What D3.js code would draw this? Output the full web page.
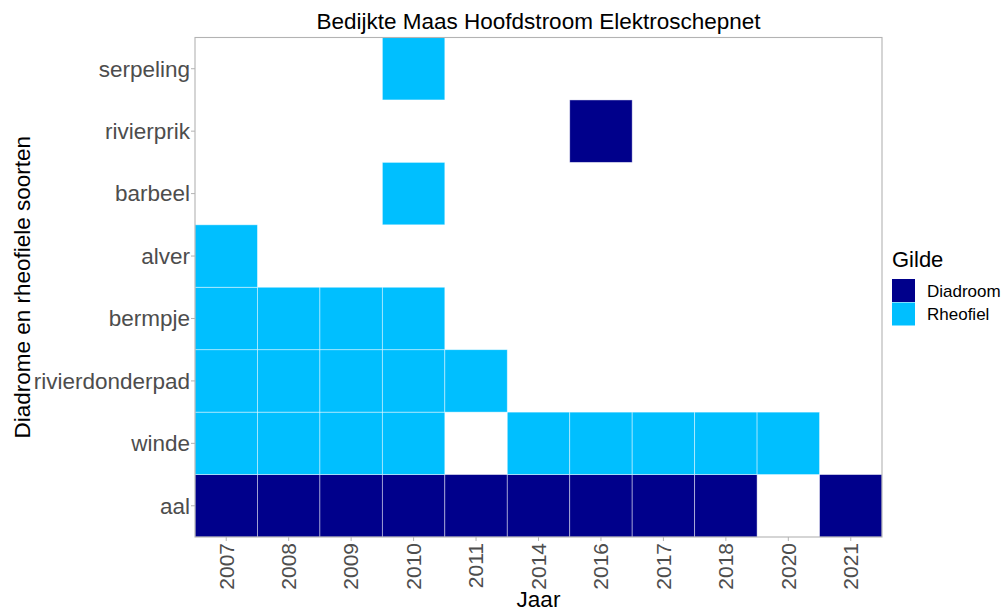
<!DOCTYPE html>
<html>
<head>
<meta charset="utf-8">
<script src="https://cdn.jsdelivr.net/npm/d3@7"></script>
<style>
  body { margin: 0; background: #fff; }
  text { font-family: "Liberation Sans", Arial, sans-serif; }
</style>
</head>
<body>
<svg id="chart" width="1004" height="612"></svg>
<script>
// Years on the x axis and species on the y axis (bottom to top)
const years = ["2007", "2008", "2009", "2010", "2011", "2014", "2016", "2017", "2018", "2020", "2021"];
const species = ["aal", "winde", "rivierdonderpad", "bermpje", "alver", "barbeel", "rivierprik", "serpeling"];
const guilds = ["Diadroom", "Rheofiel"];
const guildColors = ["#00008B", "#00BFFF"];

// Guild of each species
const speciesGuild = {
  aal: "Diadroom", rivierprik: "Diadroom",
  winde: "Rheofiel", rivierdonderpad: "Rheofiel", bermpje: "Rheofiel",
  alver: "Rheofiel", barbeel: "Rheofiel", serpeling: "Rheofiel"
};

// Years in which each species was caught
const aalYears = ["2007", "2008", "2009", "2010", "2011", "2014", "2016", "2017", "2018", "2021"];
const windeYears = ["2007", "2008", "2009", "2010", "2014", "2016", "2017", "2018", "2020"];
const rivierdonderpadYears = ["2007", "2008", "2009", "2010", "2011"];
const bermpjeYears = ["2007", "2008", "2009", "2010"];
const alverYears = ["2007"];
const barbeelYears = ["2010"];
const rivierprikYears = ["2016"];
const serpelingYears = ["2010"];

const catches = [
  ["aal", aalYears], ["winde", windeYears], ["rivierdonderpad", rivierdonderpadYears],
  ["bermpje", bermpjeYears], ["alver", alverYears], ["barbeel", barbeelYears],
  ["rivierprik", rivierprikYears], ["serpeling", serpelingYears]
];
const cells = catches.flatMap(([s, ys]) => ys.map(y => ({ species: s, year: y, guild: speciesGuild[s] })));

const svg = d3.select("#chart");
const panel = { left: 195, top: 37.5, right: 882, bottom: 537 };

const x = d3.scaleBand().domain(years).range([panel.left, panel.right]).padding(0);
const y = d3.scaleBand().domain(species).range([panel.bottom, panel.top]).padding(0);
const color = d3.scaleOrdinal().domain(guilds).range(guildColors);

// Tiles
svg.append("g").selectAll("rect").data(cells).join("rect")
  .attr("x", d => x(d.year))
  .attr("y", d => y(d.species))
  .attr("width", x.bandwidth())
  .attr("height", y.bandwidth())
  .attr("fill", d => color(d.guild))
  .attr("stroke", "#ffffff")
  .attr("stroke-opacity", 0.55)
  .attr("stroke-width", 0.8);

// Panel border
svg.append("rect")
  .attr("x", panel.left).attr("y", panel.top)
  .attr("width", panel.right - panel.left).attr("height", panel.bottom - panel.top)
  .attr("fill", "none").attr("stroke", "#b3b3b3").attr("stroke-width", 1.1);

// X axis
const xAxis = svg.append("g")
  .attr("transform", `translate(0,${panel.bottom})`)
  .call(d3.axisBottom(x).tickSize(4).tickSizeOuter(0));
xAxis.select(".domain").remove();
xAxis.selectAll(".tick line").attr("stroke", "#b3b3b3");
xAxis.selectAll(".tick text")
  .attr("fill", "#4d4d4d").attr("font-size", 21)
  .attr("text-anchor", "end")
  .attr("transform", "rotate(-90)")
  .attr("x", -6).attr("y", 0).attr("dy", "0.35em");

// Y axis
const yAxis = svg.append("g")
  .attr("transform", `translate(${panel.left},0)`)
  .call(d3.axisLeft(y).tickSize(4).tickSizeOuter(0));
yAxis.select(".domain").remove();
yAxis.selectAll(".tick line").attr("stroke", "#b3b3b3");
yAxis.selectAll(".tick text")
  .attr("fill", "#4d4d4d").attr("font-size", 22.5)
  .attr("x", -5).attr("dy", "0.35em");

// Titles
const cx = (panel.left + panel.right) / 2;
svg.append("text").attr("x", cx).attr("y", 29).attr("text-anchor", "middle")
  .attr("font-size", 22.5).attr("fill", "#000").text("Bedijkte Maas Hoofdstroom Elektroschepnet");
svg.append("text").attr("x", cx).attr("y", 607).attr("text-anchor", "middle")
  .attr("font-size", 22.5).attr("fill", "#000").text("Jaar");
svg.append("text")
  .attr("transform", `translate(29.5,${(panel.top + panel.bottom) / 2}) rotate(-90)`)
  .attr("text-anchor", "middle").attr("font-size", 22.5).attr("fill", "#000")
  .text("Diadrome en rheofiele soorten");

// Legend
const legend = svg.append("g").attr("transform", "translate(892,0)");
legend.append("text").attr("x", 0).attr("y", 267).attr("font-size", 22).attr("fill", "#000").text("Gilde");
const items = legend.selectAll("g.item").data(guilds).join("g")
  .attr("class", "item")
  .attr("transform", (d, i) => `translate(0,${279 + i * 23.5})`);
items.append("rect").attr("width", 23).attr("height", 23).attr("fill", d => color(d));
items.append("text").attr("x", 35).attr("y", 12).attr("dy", "0.35em")
  .attr("font-size", 17).attr("fill", "#000").text(d => d);
</script>
</body>
</html>
